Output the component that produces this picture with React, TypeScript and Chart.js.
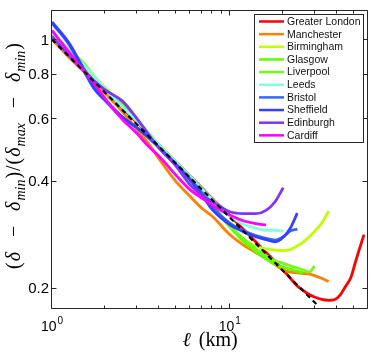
import React, { useEffect, useRef } from "react";
import { Chart, registerables } from "chart.js";
Chart.register(...registerables);

// shared x grid (km)
const X = [1, 1.25, 1.5, 1.75, 2, 2.5, 3, 3.5, 4, 5, 6, 7, 8, 10, 12, 14, 16, 18, 20, 22, 24, 26, 28, 30, 33, 36, 39, 42, 45, 48, 51, 54, 57];

const londonY = [1.03, 0.91, 0.83, 0.765, 0.715, 0.64, 0.585, 0.54, 0.505, 0.452, 0.413, 0.382, 0.357, 0.32, 0.292, 0.27, 0.252, 0.238, 0.225, 0.213, 0.203, 0.197, 0.192, 0.189, 0.186, 0.185, 0.186, 0.192, 0.203, 0.214, 0.237, 0.26, 0.283];
const manchesterY = [1.0, 0.89, 0.815, 0.755, 0.705, 0.625, 0.56, 0.51, 0.462, 0.398, 0.362, 0.335, 0.318, 0.283, 0.264, 0.252, 0.242, 0.233, 0.225, 0.222, 0.221, 0.22, 0.219, 0.217, 0.213, 0.209];
const birminghamY = [1.04, 0.925, 0.85, 0.78, 0.73, 0.655, 0.595, 0.545, 0.505, 0.45, 0.405, 0.372, 0.338, 0.298, 0.275, 0.263, 0.258, 0.256, 0.255, 0.257, 0.263, 0.27, 0.279, 0.289, 0.305, 0.33];
const glasgowY = [1.02, 0.92, 0.85, 0.775, 0.72, 0.65, 0.59, 0.54, 0.502, 0.447, 0.405, 0.37, 0.342, 0.298, 0.27, 0.254, 0.242, 0.234, 0.229, 0.226, 0.223, 0.221];
const liverpoolY = [1.03, 0.935, 0.86, 0.78, 0.725, 0.66, 0.595, 0.545, 0.505, 0.45, 0.41, 0.375, 0.345, 0.3, 0.275, 0.258, 0.247, 0.239, 0.235, 0.231, 0.228, 0.225, 0.222, 0.231];
const leedsY = [1.05, 0.93, 0.85, 0.78, 0.725, 0.645, 0.59, 0.545, 0.505, 0.452, 0.412, 0.38, 0.355, 0.32, 0.302, 0.295, 0.291, 0.291, 0.289];
const bristolY = [1.11, 0.965, 0.82, 0.72, 0.672, 0.6, 0.565, 0.53, 0.497, 0.445, 0.405, 0.37, 0.338, 0.305, 0.29, 0.281, 0.276, 0.273, 0.279, 0.29, 0.293];
const sheffieldY = [1.12, 0.975, 0.83, 0.725, 0.675, 0.605, 0.565, 0.53, 0.497, 0.445, 0.402, 0.365, 0.332, 0.302, 0.288, 0.279, 0.274, 0.27, 0.278, 0.296, 0.325];
const edinburghY = [1.02, 0.9, 0.82, 0.76, 0.72, 0.67, 0.6, 0.54, 0.495, 0.44, 0.39, 0.365, 0.35, 0.328, 0.324, 0.324, 0.331, 0.35, 0.383];
const cardiffY = [1.06, 0.92, 0.82, 0.745, 0.68, 0.595, 0.545, 0.5, 0.47, 0.415, 0.378, 0.358, 0.342, 0.321, 0.309, 0.304, 0.301];

const cities = ["Greater London", "Manchester", "Birmingham", "Glasgow", "Liverpool", "Leeds", "Bristol", "Sheffield", "Edinburgh", "Cardiff"];
const cityValues = [londonY, manchesterY, birminghamY, glasgowY, liverpoolY, leedsY, bristolY, sheffieldY, edinburghY, cardiffY];
const cityColors = ["#ff0000", "#ff8000", "#bfff00", "#5cff00", "#70ff10", "#80ffe0", "#3366ff", "#3340ff", "#8033ff", "#ff00ff"];

// power-law reference (slope -1/2) end points
const fitX = [1, 31.6];
const fitY = [1, 0.178];

const yTicks = [0.2, 0.4, 0.6, 0.8, 1];
const yTickLabels = ["0.2", "0.4", "0.6", "0.8", "1"];
const xMajor = [1, 10];
const xMajorExp = ["0", "1"];
const xMinor = [2, 3, 4, 5, 6, 7, 8, 9, 20, 30, 40, 50, 60];

const AX = "#262626";

const decor = {
  id: "decor",
  afterDraw(chart: any) {
    const ctx: CanvasRenderingContext2D = chart.ctx;
    const { left, right, top, bottom } = chart.chartArea;
    const xs = chart.scales.x;
    const ys = chart.scales.y;
    const xL = left - 0.5, xR = right - 0.5, yT = top + 0.5, yB = bottom + 0.5;
    ctx.save();
    ctx.strokeStyle = AX;
    ctx.lineWidth = 1;
    ctx.beginPath();
    ctx.rect(xL, yT, xR - xL, yB - yT);
    const tick = (v: number, len: number) => {
      const p = Math.round(xs.getPixelForValue(v)) - 0.5;
      ctx.moveTo(p, yB); ctx.lineTo(p, yB - len);
      ctx.moveTo(p, yT); ctx.lineTo(p, yT + len);
    };
    xMajor.forEach((v) => tick(v, 5));
    xMinor.forEach((v) => tick(v, 3));
    yTicks.forEach((v) => {
      const p = Math.round(ys.getPixelForValue(v)) + 0.5;
      ctx.moveTo(xL, p); ctx.lineTo(xL + 5, p);
      ctx.moveTo(xR, p); ctx.lineTo(xR - 5, p);
    });
    ctx.stroke();

    // y tick labels
    ctx.fillStyle = "#000";
    ctx.font = "15px 'Liberation Sans', Arial, sans-serif";
    ctx.textAlign = "right";
    ctx.textBaseline = "middle";
    yTicks.forEach((v, i) => {
      ctx.fillText(yTickLabels[i], left - 3, ys.getPixelForValue(v) + 1);
    });
    // x tick labels 10^n
    ctx.textAlign = "left";
    ctx.textBaseline = "alphabetic";
    xMajor.forEach((v, i) => {
      ctx.font = "14px 'Liberation Sans', Arial, sans-serif";
      const w1 = ctx.measureText("10").width;
      ctx.font = "10px 'Liberation Sans', Arial, sans-serif";
      const w2 = ctx.measureText(xMajorExp[i]).width;
      const p = xs.getPixelForValue(v);
      const x0 = p - (w1 + w2 + 1) / 2;
      ctx.font = "14px 'Liberation Sans', Arial, sans-serif";
      ctx.fillText("10", x0, 331);
      ctx.font = "10px 'Liberation Sans', Arial, sans-serif";
      ctx.fillText(xMajorExp[i], x0 + w1 + 1, 324);
    });

    // x title
    const serif = "'Liberation Serif', 'DejaVu Serif', serif";
    const segX = [
      { t: "\u2113", f: "italic 20px " + serif, g: 8 },
      { t: "(km)", f: "20px " + serif, g: 0 },
    ];
    let tw = 0;
    segX.forEach((s) => { ctx.font = s.f; tw += ctx.measureText(s.t).width + s.g; });
    let cx = (left + right) / 2 - tw / 2;
    segX.forEach((s) => { ctx.font = s.f; ctx.fillText(s.t, cx, 346); cx += ctx.measureText(s.t).width + s.g; });

    // y title
    const up = "20px " + serif, it = "italic 20px " + serif, sb = "italic 14px " + serif;
    const segs = [
      { t: "(", f: up, d: 0 }, { t: "\u03b4", f: it, d: 0 }, { t: "\u2212", f: up, d: 0, g: 1 },
      { t: "\u03b4", f: it, d: 0 }, { t: "min", f: sb, d: 5 }, { t: ")", f: up, d: 0 },
      { t: "/", f: up, d: 0 }, { t: "(", f: up, d: 0 }, { t: "\u03b4", f: it, d: 0 },
      { t: "max", f: sb, d: 5 }, { t: "\u2212", f: up, d: 0, g: 1 }, { t: "\u03b4", f: it, d: 0 },
      { t: "min", f: sb, d: 5 }, { t: ")", f: up, d: 0 },
    ];
    let nat = 0;
    segs.forEach((s) => { ctx.font = s.f; nat += ctx.measureText(s.t).width; });
    const target = 226;
    const gap = 1;
    const minusGap = Math.max(3, (target - nat - gap * (segs.length - 1)) / 4);
    ctx.translate(20, 156);
    ctx.rotate(-Math.PI / 2);
    let px = -target / 2;
    segs.forEach((s: any, i) => {
      ctx.font = s.f;
      if (s.g) px += minusGap;
      ctx.fillText(s.t, px, s.d);
      px += ctx.measureText(s.t).width + (s.g ? minusGap : 0) + (i < segs.length - 1 ? gap : 0);
    });
    ctx.setTransform(1, 0, 0, 1, 0, 0);

    // legend
    const lx0 = 254.5, ly0 = 14.5, lw = 109, lh = 128;
    ctx.fillStyle = "#fff";
    ctx.fillRect(lx0, ly0, lw, lh);
    ctx.strokeStyle = AX;
    ctx.lineWidth = 1;
    ctx.strokeRect(lx0, ly0, lw, lh);
    ctx.font = "10.5px 'Liberation Sans', Arial, sans-serif";
    ctx.textBaseline = "middle";
    ctx.textAlign = "left";
    cities.forEach((c, i) => {
      const y = 21.5 + i * 12.65;
      ctx.strokeStyle = cityColors[i];
      ctx.lineWidth = 2.5;
      ctx.beginPath();
      ctx.moveTo(259, y); ctx.lineTo(284, y);
      ctx.stroke();
      ctx.fillStyle = "#111";
      ctx.fillText(c, 287, y + 0.5);
    });
    ctx.restore();
  },
};

export default function App() {
  const ref = useRef<HTMLCanvasElement>(null);
  useEffect(() => {
    if (!ref.current) return;
    const datasets: any[] = cities.map((c, i) => ({
      label: c,
      data: cityValues[i].map((v, k) => ({ x: X[k], y: v })),
      borderColor: cityColors[i],
      backgroundColor: cityColors[i],
      borderWidth: 2.8,
      pointRadius: 0,
      cubicInterpolationMode: "monotone",
      fill: false,
      order: 10 - i + 1,
    }));
    datasets.push({
      label: "fit",
      data: fitX.map((x, k) => ({ x, y: fitY[k] })),
      borderColor: "#000",
      borderWidth: 2.2,
      borderDash: [5, 4],
      pointRadius: 0,
      fill: false,
      order: 0,
    });
    const chart = new Chart(ref.current, {
      type: "line",
      data: { datasets },
      plugins: [decor],
      options: {
        animation: false,
        responsive: false,
        devicePixelRatio: 1,
        layout: { padding: { left: 0, right: 6, top: 10, bottom: 0 } },
        plugins: { legend: { display: false }, tooltip: { enabled: false }, title: { display: false } },
        scales: {
          x: {
            type: "logarithmic",
            min: 1,
            max: 60,
            grid: { display: false },
            border: { display: false },
            ticks: { display: false },
            afterFit: (s: any) => { s.height = 49; },
          },
          y: {
            type: "logarithmic",
            min: 0.176,
            max: 1.21,
            grid: { display: false },
            border: { display: false },
            ticks: { display: false },
            afterFit: (s: any) => { s.width = 52; },
          },
        },
      } as any,
    });
    return () => chart.destroy();
  }, []);
  return (
    <div style={{ position: "fixed", left: 0, top: 0, width: 374, height: 357, background: "#fff" }}>
      <canvas ref={ref} width={374} height={357} style={{ display: "block", width: 374, height: 357 }} />
    </div>
  );
}
